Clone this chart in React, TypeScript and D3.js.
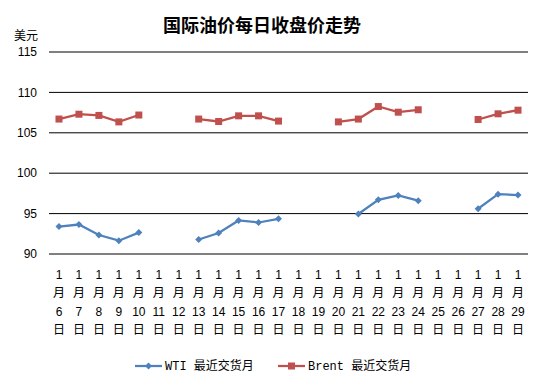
import React from 'react';
import * as d3 from 'd3';

const days: number[] = [6, 7, 8, 9, 10, 11, 12, 13, 14, 15, 16, 17, 18, 19, 20, 21, 22, 23, 24, 25, 26, 27, 28, 29];

const wti: (number | null)[] = [
  93.4, 93.65, 92.35, 91.65, 92.65, null, null, 91.8, 92.6, 94.15, 93.9, 94.35,
  null, null, null, 94.95, 96.7, 97.25, 96.6, null, null, 95.6, 97.4, 97.3,
];

const brent: (number | null)[] = [
  106.7, 107.3, 107.15, 106.35, 107.2, null, null, 106.7, 106.4, 107.1, 107.1, 106.45,
  null, null, 106.35, 106.7, 108.25, 107.55, 107.85, null, null, 106.65, 107.35, 107.8,
];

const yTicks: number[] = [90, 95, 100, 105, 110, 115];

const title = '国际油价每日收盘价走势';
const unitLabel = '美元';
const seriesNames = ['WTI 最近交货月', 'Brent 最近交货月'];
const colors = ['#4F81BD', '#C0504D'];

const W = 544;
const H = 384;
const margin = { top: 52, right: 16, bottom: 130, left: 49 };

const sansFont = '"Liberation Sans", Arial, "Noto Sans CJK SC", sans-serif';
const monoFont = '"Liberation Mono", "Noto Sans CJK SC", monospace';

const App: React.FC = () => {
  const x = d3
    .scaleBand<number>()
    .domain(days)
    .range([margin.left, W - margin.right]);

  const y = d3
    .scaleLinear()
    .domain([90, 115])
    .range([H - margin.bottom, margin.top]);

  const cx = (d: number) => (x(d) as number) + x.bandwidth() / 2;

  const line = d3
    .line<number | null>()
    .defined((v) => v !== null)
    .x((_, i) => cx(days[i]))
    .y((v) => y(v as number));

  const diamond = (px: number, py: number) =>
    `M${px},${py - 3.5}L${px + 3.5},${py}L${px},${py + 3.5}L${px - 3.5},${py}Z`;

  const series = [wti, brent];

  return (
    <div style={{ position: 'absolute', left: 0, top: 0 }}>
      <svg width={W} height={H} style={{ display: 'block', background: '#fff' }}>
        <text
          x={262}
          y={32}
          textAnchor="middle"
          fontFamily='"Noto Sans CJK SC", sans-serif'
          fontWeight="bold"
          fontSize={18}
          fill="#000"
        >
          {title}
        </text>
        <text x={26} y={40} textAnchor="middle" fontFamily={sansFont} fontSize={12} fill="#000">
          {unitLabel}
        </text>

        {yTicks.map((t) => (
          <g key={t}>
            <line x1={margin.left} x2={W - margin.right} y1={y(t)} y2={y(t)} stroke="#000" strokeWidth={1} />
            <text
              x={37}
              y={y(t)}
              dy="0.35em"
              textAnchor="end"
              fontFamily={sansFont}
              fontSize={12}
              fill="#000"
            >
              {t}
            </text>
          </g>
        ))}

        {days.map((d) => (
          <g key={d} fontFamily={sansFont} fontSize={12} fill="#000" textAnchor="middle">
            <text x={cx(d)} y={279}>1</text>
            <text x={cx(d)} y={297}>月</text>
            <text x={cx(d)} y={316}>{d}</text>
            <text x={cx(d)} y={334}>日</text>
          </g>
        ))}

        {series.map((s, si) => (
          <g key={si}>
            <path d={line(s) || ''} fill="none" stroke={colors[si]} strokeWidth={2.25} />
            {s.map((v, i) =>
              v === null ? null : si === 0 ? (
                <path key={i} d={diamond(cx(days[i]), y(v))} fill={colors[si]} />
              ) : (
                <rect key={i} x={cx(days[i]) - 3.5} y={y(v) - 3.5} width={7} height={7} fill={colors[si]} />
              )
            )}
          </g>
        ))}

        <g fontFamily={monoFont} fontSize={12} fill="#000">
          <line x1={135} x2={162} y1={366} y2={366} stroke={colors[0]} strokeWidth={2.25} />
          <path d={diamond(148.5, 366)} fill={colors[0]} />
          <text x={165} y={366} dy="0.35em">{seriesNames[0]}</text>
          <line x1={278} x2={305} y1={366} y2={366} stroke={colors[1]} strokeWidth={2.25} />
          <rect x={288} y={362.5} width={7} height={7} fill={colors[1]} />
          <text x={308} y={366} dy="0.35em">{seriesNames[1]}</text>
        </g>
      </svg>
    </div>
  );
};

export default App;
